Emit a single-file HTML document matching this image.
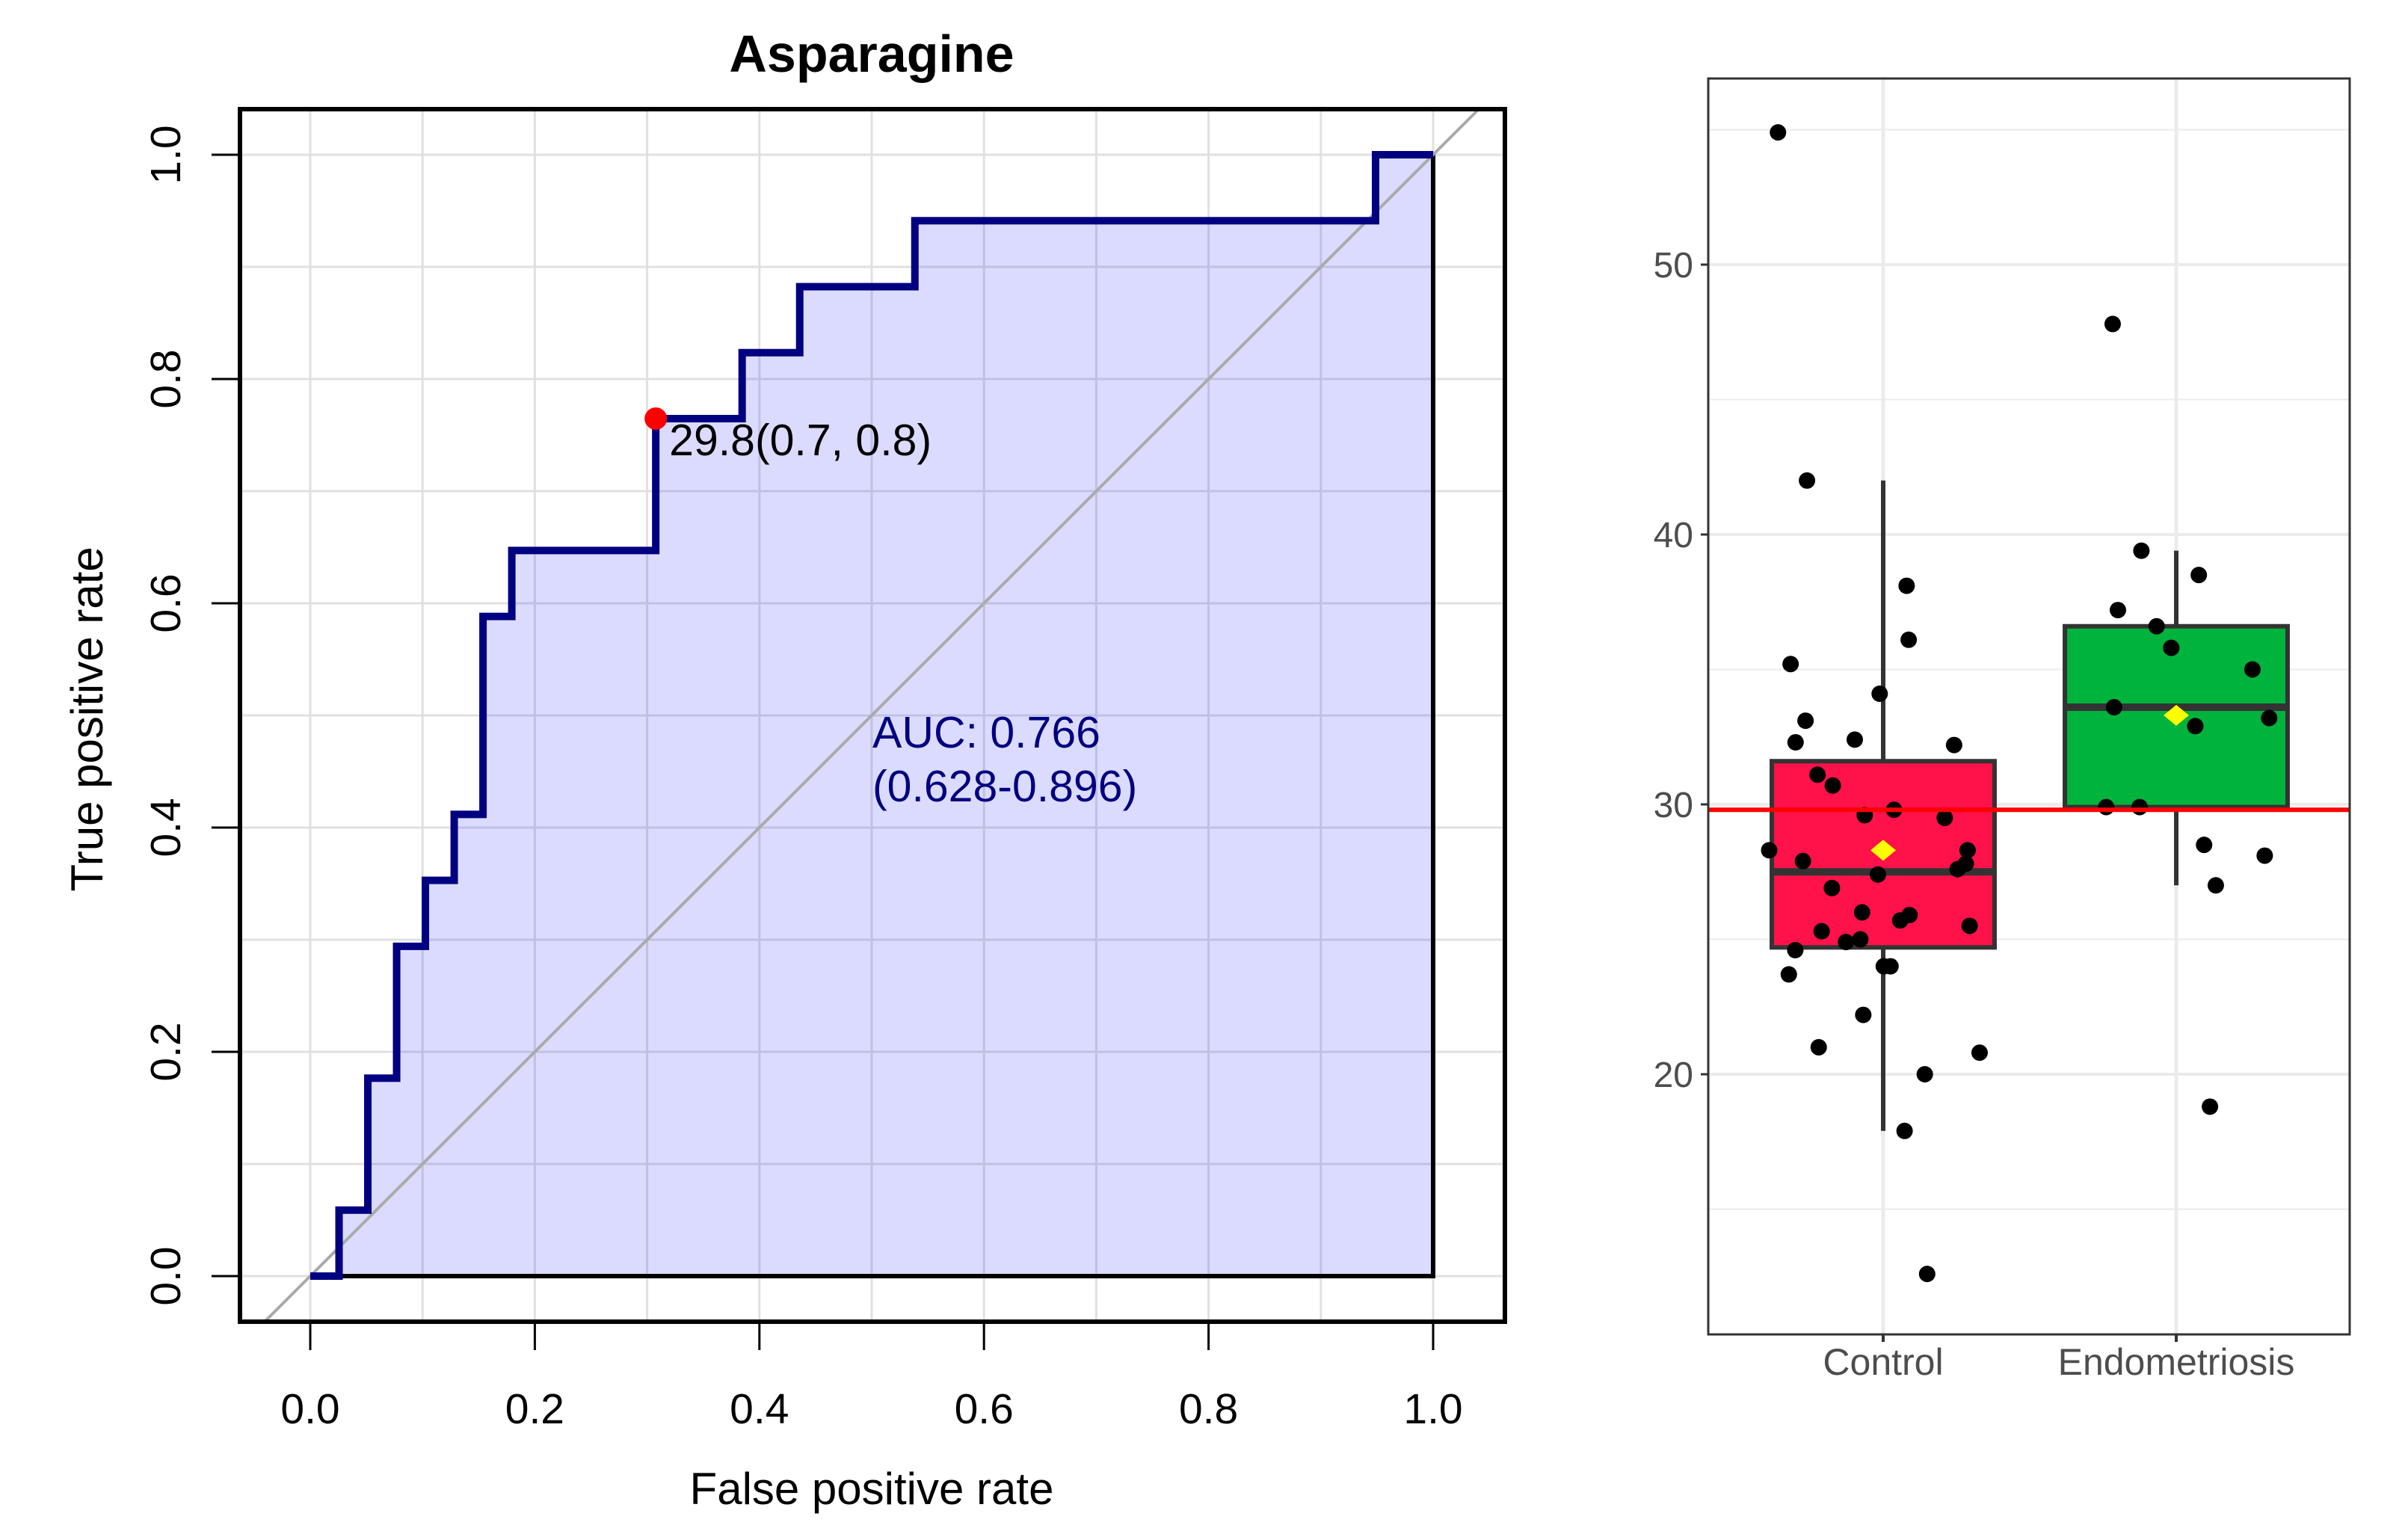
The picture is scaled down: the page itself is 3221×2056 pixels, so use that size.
<!DOCTYPE html>
<html><head><meta charset="utf-8"><style>
html,body{margin:0;padding:0;background:#fff;}
svg{display:block;font-family:"Liberation Sans",sans-serif;}
</style></head><body>
<svg id="chart" width="3221" height="2056" viewBox="0 0 3221 2056">
<g id="roc"></g>
<g id="box"></g>
</svg>
<script>
// ROC data
const rocFpr = [0,1,1,2,2,3,3,4,4,5,5,6,6,7,7,12,12,15,15,17,17,21,21,37,37,39].map(v=>v/39);
const rocTpr = [0,0,1,1,3,3,5,5,6,6,7,7,10,10,11,11,13,13,14,14,15,15,16,16,17,17].map(v=>v/17);
const rocTicks = [0,0.2,0.4,0.6,0.8,1.0];
const rocTickLabels = ["0.0","0.2","0.4","0.6","0.8","1.0"];
const bestPoint = [12/39, 13/17];
const bestLabel = "29.8(0.7, 0.8)";
const aucLines = ["AUC: 0.766","(0.628-0.896)"];
// Boxplot data
const groups = ["Control","Endometriosis"];
const groupColors = ["#ff1249","#00b33c"];
const boxQ1 = [24.7, 29.9];
const boxMedian = [27.5, 33.6];
const boxQ3 = [31.6, 36.6];
const whiskerLow = [17.9, 27.0];
const whiskerHigh = [42.0, 39.4];
const groupMeans = [28.3, 33.3];
const cutoff = 29.8;
const controlValues = [54.9,42.0,38.1,36.1,35.2,34.1,33.1,32.3,32.4,32.2,31.1,30.7,29.6,29.8,29.5,28.3,27.9,28.3,27.8,27.6,27.4,26.9,26.0,25.7,25.9,25.3,24.9,25.0,25.5,24.6,23.7,24.0,24.0,22.2,21.0,20.8,20.0,17.9,12.6];
const controlJitter = [-0.359,-0.26,0.08,0.087,-0.316,-0.012,-0.265,-0.299,-0.097,0.242,-0.224,-0.172,-0.063,0.037,0.21,-0.389,-0.274,0.288,0.282,0.254,-0.018,-0.175,-0.072,0.058,0.09,-0.21,-0.127,-0.078,0.295,-0.3,-0.322,0.002,0.025,-0.068,-0.22,0.329,0.142,0.073,0.15];
const endoValues = [47.8,39.4,38.5,37.2,36.6,35.8,35.0,33.6,32.9,33.2,29.9,29.9,28.5,28.1,27.0,18.8];
const endoJitter = [-0.217,-0.119,0.077,-0.199,-0.067,-0.017,0.26,-0.212,0.065,0.317,-0.239,-0.125,0.095,0.302,0.135,0.115];
const boxYTicks = [20,30,40,50];
const boxYMinor = [15,25,35,45,55];

const NS="http://www.w3.org/2000/svg";
function mk(parent,tag,attrs,text){const e=document.createElementNS(NS,tag);for(const k in attrs)e.setAttribute(k,attrs[k]);if(text!==undefined)e.textContent=text;parent.appendChild(e);return e;}

// ---- ROC ----
const roc=document.getElementById('roc');
const L=321,R=2013,T=146,B=1768;
const xs=v=>415+v*1502, ys=v=>1707-v*1500;
let e;
e=mk(roc,'rect',{x:L,y:T,width:R-L,height:B-T,fill:'#fff'});


for(let i=0;i<=10;i++){
  e=mk(roc,'line',{x1:xs(i/10),x2:xs(i/10),y1:T,y2:B,stroke:'#e0e0e0','stroke-width':3});
  
  
  e=mk(roc,'line',{x1:L,x2:R,y1:ys(i/10),y2:ys(i/10),stroke:'#e0e0e0','stroke-width':3});
  
  
}
let d='M'+xs(0)+','+ys(0);
for(let i=0;i<rocFpr.length;i++) d+=' L'+xs(rocFpr[i])+','+ys(rocTpr[i]);
e=mk(roc,'path',{d:d+' L'+xs(1)+','+ys(0)+' Z',fill:'rgba(0,0,255,0.14)',stroke:'none'});


e=mk(roc,'polyline',{points:xs(1)+','+ys(1)+' '+xs(1)+','+ys(0)+' '+xs(0)+','+ys(0),fill:'none',stroke:'#000','stroke-width':6});


const dlo=Math.max((L-415)/1502,(1707-B)/1500), dhi=Math.min((R-415)/1502,(1707-T)/1500);
e=mk(roc,'line',{x1:xs(dlo),y1:ys(dlo),x2:xs(dhi),y2:ys(dhi),stroke:'#aaaaaa','stroke-width':4});


e=mk(roc,'path',{d:d,fill:'none',stroke:'#000080','stroke-width':10,'stroke-linejoin':'miter'});


e=mk(roc,'circle',{cx:xs(bestPoint[0]),cy:ys(bestPoint[1]),r:15,fill:'#ff0000'});


e=mk(roc,'text',{x:xs(bestPoint[0])+18,y:ys(bestPoint[1])+49,'font-size':59,fill:'#000'},bestLabel);


aucLines.forEach((t,i)=>{
  e=mk(roc,'text',{x:1167,y:1000+i*72,'font-size':59,fill:'#000080'},t);
  
  
});
e=mk(roc,'rect',{x:L,y:T,width:R-L,height:B-T,fill:'none',stroke:'#000','stroke-width':6});


rocTicks.forEach((v,i)=>{
  e=mk(roc,'line',{x1:xs(v),x2:xs(v),y1:B,y2:B+38,stroke:'#000','stroke-width':3});
  
  
  e=mk(roc,'text',{x:xs(v),y:1904,'font-size':57,'text-anchor':'middle',fill:'#000'},rocTickLabels[i]);
  
  
  e=mk(roc,'line',{x1:L-38,x2:L,y1:ys(v),y2:ys(v),stroke:'#000','stroke-width':3});
  
  
  e=mk(roc,'text',{x:0,y:0,'font-size':57,'text-anchor':'middle',fill:'#000',transform:'translate(241,'+ys(v)+') rotate(-90)'},rocTickLabels[i]);
  
  
});
e=mk(roc,'text',{x:1166,y:96,'font-size':70,'font-weight':'bold','text-anchor':'middle',fill:'#000'},'Asparagine');


e=mk(roc,'text',{x:1166,y:2012,'font-size':60,'text-anchor':'middle',fill:'#000'},'False positive rate');


e=mk(roc,'text',{x:0,y:0,'font-size':60,'text-anchor':'middle',fill:'#000',transform:'translate(137,962) rotate(-90)'},'True positive rate');



// ---- Boxplot ----
const bx=document.getElementById('box');
const PL=2285,PR=3143,PT=105,PB=1785;
const by=v=>1076-(v-30)*36.1;
const bxc=(g,off)=>2519+(g+(off||0))*392;
const hw=0.38;
boxYMinor.forEach(v=>{
  e=mk(bx,'line',{x1:PL,x2:PR,y1:by(v),y2:by(v),stroke:'#ebebeb','stroke-width':2});
  
  
});
boxYTicks.forEach(v=>{
  e=mk(bx,'line',{x1:PL,x2:PR,y1:by(v),y2:by(v),stroke:'#ebebeb','stroke-width':4});
  
  
  e=mk(bx,'line',{x1:PL-10,x2:PL,y1:by(v),y2:by(v),stroke:'#333','stroke-width':3});
  
  
  e=mk(bx,'text',{x:PL-20,y:by(v)+17,'font-size':48,'text-anchor':'end',fill:'#4d4d4d'},String(v));
  
  
});
groups.forEach((g,i)=>{
  e=mk(bx,'line',{x1:bxc(i),x2:bxc(i),y1:PT,y2:PB,stroke:'#ebebeb','stroke-width':5});
  
  
});
groups.forEach((g,i)=>{
  const cx=bxc(i);
  e=mk(bx,'line',{x1:cx,x2:cx,y1:by(whiskerHigh[i]),y2:by(whiskerLow[i]),stroke:'#333','stroke-width':6});
  
  
  e=mk(bx,'rect',{x:bxc(i,-hw),y:by(boxQ3[i]),width:bxc(i,hw)-bxc(i,-hw),height:by(boxQ1[i])-by(boxQ3[i]),fill:groupColors[i],stroke:'#333','stroke-width':6});
  
  
  e=mk(bx,'line',{x1:bxc(i,-hw),x2:bxc(i,hw),y1:by(boxMedian[i]),y2:by(boxMedian[i]),stroke:'#333','stroke-width':10});
  
  
});
[[controlValues,controlJitter,0],[endoValues,endoJitter,1]].forEach(([vals,jit,gi])=>{
  vals.forEach((v,k)=>{
    e=mk(bx,'circle',{cx:bxc(gi,jit[k]),cy:by(v),r:11,fill:'#000'});
    
    
  });
});
groupMeans.forEach((m,i)=>{
  const cx=bxc(i),cy=by(m);
  e=mk(bx,'polygon',{points:`${cx-17},${cy} ${cx},${cy-14} ${cx+17},${cy} ${cx},${cy+14}`,fill:'#ffff00'});
  
  
});
e=mk(bx,'line',{x1:PL,x2:PR,y1:by(cutoff),y2:by(cutoff),stroke:'#ff0000','stroke-width':6});


e=mk(bx,'rect',{x:PL,y:PT,width:PR-PL,height:PB-PT,fill:'none',stroke:'#333','stroke-width':3});


groups.forEach((g,i)=>{
  e=mk(bx,'line',{x1:bxc(i),x2:bxc(i),y1:PB,y2:PB+10,stroke:'#333','stroke-width':4});
  
  
  e=mk(bx,'text',{x:bxc(i),y:1839,'font-size':50,'text-anchor':'middle',fill:'#4d4d4d'},g);
  
  
});
</script>
</body></html>
